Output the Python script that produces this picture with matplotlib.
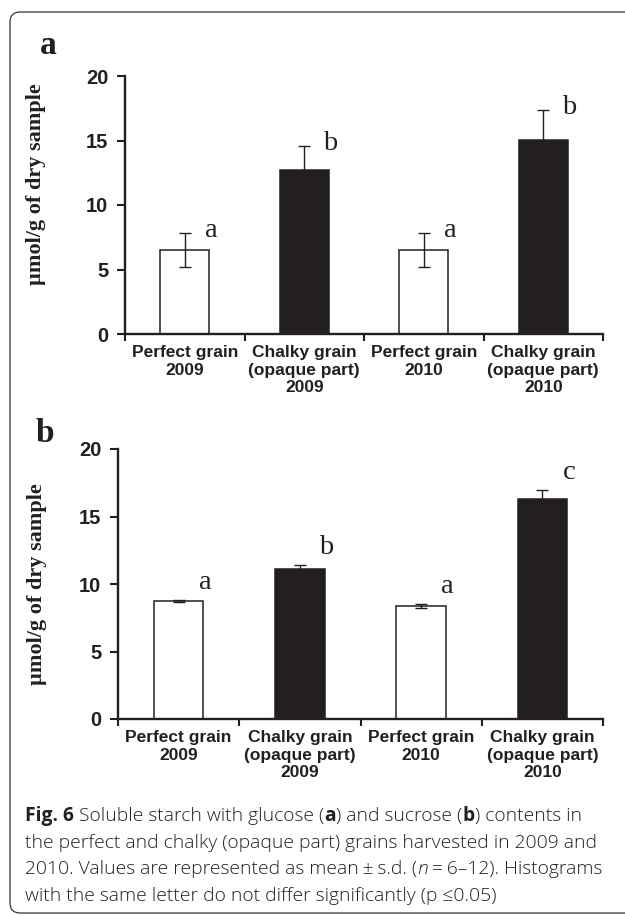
import numpy as np
import matplotlib
matplotlib.use("Agg")
import matplotlib.pyplot as plt
from matplotlib.patches import FancyBboxPatch
from matplotlib.transforms import IdentityTransform

# ---------------------------
# data
# ---------------------------
categories = ["Perfect grain\n2009", "Chalky grain\n(opaque part)\n2009",
              "Perfect grain\n2010", "Chalky grain\n(opaque part)\n2010"]
is_chalky = [False, True, False, True]

glucose_mean = [6.5, 12.75, 6.5, 15.05]
glucose_sd = [1.33, 1.85, 1.33, 2.32]
glucose_letters = ["a", "b", "a", "b"]

sucrose_mean = [8.75, 11.1, 8.38, 16.3]
sucrose_sd = [0.08, 0.3, 0.15, 0.67]
sucrose_letters = ["a", "b", "a", "c"]

y_ticks = [0, 5, 10, 15, 20]
y_label = "µmol/g of dry sample"

INK = "#231f20"
SANS = ["Liberation Sans", "DejaVu Sans"]
SERIF = ["Liberation Serif", "DejaVu Serif"]
CAP_FONT = ["Open Sans", "DejaVu Sans"]

W, H = 625, 915
fig = plt.figure(figsize=(W / 100, H / 100), dpi=100)


def px(x0, y0, x1, y1):
    # pixel box (top-left origin) -> figure fraction rect
    return [x0 / W, 1 - y1 / H, (x1 - x0) / W, (y1 - y0) / H]


def draw_panel(ax, means, sds, letters, letter_pad, label_xy):
    x = np.arange(len(means))
    colors = [INK if c else "white" for c in is_chalky]
    ax.bar(x, means, width=0.41, color=colors, edgecolor=INK, linewidth=1.1, zorder=2)
    ax.errorbar(x, means, yerr=sds, fmt="none", ecolor=INK, elinewidth=1.0,
                capsize=4, capthick=1.0, zorder=3)
    for xi, m, s, lab in zip(x, means, sds, letters):
        ax.text(xi + 0.22, m + s + letter_pad, lab, ha="center", va="center",
                fontsize=20.5, family=SERIF, color=INK)

    ax.set_xlim(-0.5, len(means) - 0.5)
    ax.set_ylim(0, 20)
    ax.set_yticks(y_ticks)
    ax.set_xticks(np.arange(-0.5, len(means), 1))
    ax.set_xticklabels([])
    ax.set_xticks(x, minor=True)
    ax.set_xticklabels(categories, minor=True)
    ax.tick_params(axis="x", which="minor", length=0, pad=8)
    ax.tick_params(axis="x", which="major", length=5, width=1.5, direction="out", color=INK)
    ax.tick_params(axis="y", length=6, width=1.5, pad=6, color=INK)
    for lab in ax.get_xticklabels(minor=True):
        lab.set_fontfamily(SANS)
        lab.set_fontweight("bold")
        lab.set_fontsize(12.5)
        lab.set_color(INK)
    for lab in ax.get_yticklabels():
        lab.set_fontfamily(SANS)
        lab.set_fontweight("bold")
        lab.set_fontsize(14.5)
        lab.set_color(INK)
    for side in ["top", "right"]:
        ax.spines[side].set_visible(False)
    for side in ["left", "bottom"]:
        ax.spines[side].set_linewidth(1.7)
        ax.spines[side].set_color(INK)
    ax.set_ylabel(y_label, family=SERIF, fontweight="bold", fontsize=16, color=INK)
    ax.yaxis.set_label_coords(*label_xy)


ax_a = fig.add_axes(px(125, 76, 603, 334))
draw_panel(ax_a, glucose_mean, glucose_sd, glucose_letters, 0.2, (-0.165, 0.58))

ax_b = fig.add_axes(px(118, 449, 603, 719))
draw_panel(ax_b, sucrose_mean, sucrose_sd, sucrose_letters, 1.3, (-0.146, 0.5))

fig.text(40 / W, 1 - 46 / H, "a", family=SERIF, fontweight="bold", fontsize=24,
         ha="left", va="center", color=INK)
fig.text(36 / W, 1 - 433 / H, "b", family=SERIF, fontweight="bold", fontsize=24,
         ha="left", va="center", color=INK)

# frame with rounded left corners (runs off the right edge)
frame = FancyBboxPatch((10, 2), 700, H - 14, boxstyle="round,pad=0,rounding_size=10",
                       transform=IdentityTransform(), facecolor="none",
                       edgecolor="#333333", linewidth=0.9)
fig.add_artist(frame)

# ---------------------------
# caption, drawn run by run
# ---------------------------
cap_lines = [
    [("Fig. 6", "bold", "normal"), (" Soluble starch with glucose (", "light", "normal"),
     ("a", "bold", "normal"), (") and sucrose (", "light", "normal"),
     ("b", "bold", "normal"), (") contents in", "light", "normal")],
    [("the perfect and chalky (opaque part) grains harvested in 2009 and", "light", "normal")],
    [("2010. Values are represented as mean\u2009±\u2009s.d. (", "light", "normal"),
     ("n", "light", "italic"), ("\u2009=\u20096–12). Histograms", "light", "normal")],
    [("with the same letter do not differ significantly (p \u22640.05)", "light", "normal")],
]
cap_y = [816, 843, 869, 896]
CAP_SIZE = 13.9

renderer = fig.canvas.get_renderer()


def text_w(s, weight, style):
    t = fig.text(0, 0, s, family=CAP_FONT, fontsize=CAP_SIZE, fontweight=weight, fontstyle=style)
    w = t.get_window_extent(renderer).width
    t.remove()
    return w


bar_w = text_w("||", "light", "normal")
for runs, yy in zip(cap_lines, cap_y):
    x = 25.0
    for s, weight, style in runs:
        fig.text(x / W, 1 - yy / H, s, family=CAP_FONT, fontsize=CAP_SIZE,
                 fontweight=weight, fontstyle=style, ha="left", va="center", color=INK)
        x += text_w("|" + s + "|", weight, style) - bar_w

fig.savefig("out.png", dpi=100)
